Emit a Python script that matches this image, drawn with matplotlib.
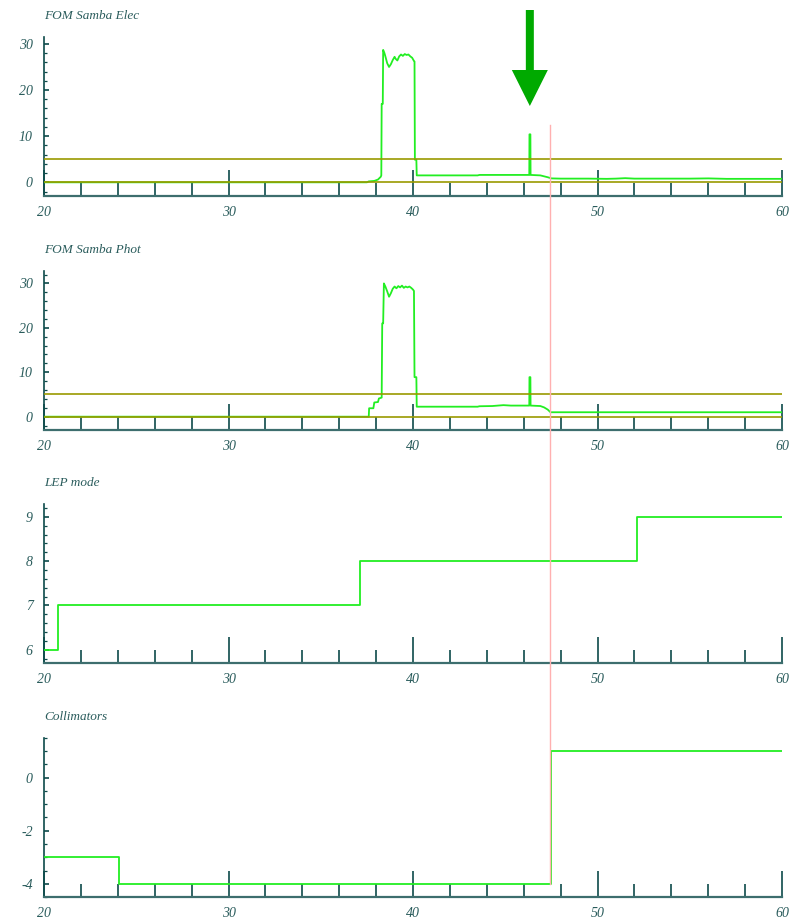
import matplotlib
matplotlib.use("Agg")
import matplotlib.pyplot as plt
import matplotlib.transforms as mtransforms
from matplotlib.lines import Line2D
from matplotlib.patches import FancyArrow
import numpy as np

# FOM traces, sampled points (linear between samples)
elec_t = [20.0, 37.5, 37.6, 37.9, 38.1, 38.25, 38.28, 38.3, 38.36, 38.38, 38.45, 38.5, 38.6,
          38.7, 38.8, 38.9, 39.0, 39.05, 39.15, 39.25, 39.35, 39.45, 39.55, 39.65, 39.75,
          39.85, 39.95, 40.05, 40.08, 40.1, 40.18, 40.2, 43.5, 43.6, 45.5, 46.3, 46.31,
          46.36, 46.37, 46.9, 47.1, 47.3, 47.5, 48.0, 49.5, 50.5, 51.0, 51.5, 52.0, 53.5,
          55.0, 56.0, 57.0, 60.0]
elec_v = [0.0, 0.0, 0.2, 0.3, 0.6, 1.2, 1.5, 17.0, 17.0, 28.7, 28.0, 27.3, 25.8,
          25.0, 25.6, 26.5, 27.2, 26.8, 26.4, 27.3, 27.7, 27.4, 27.8, 27.6, 27.7,
          27.3, 27.0, 26.3, 26.2, 4.9, 4.9, 1.5, 1.5, 1.6, 1.6, 1.6, 10.4,
          10.4, 1.6, 1.5, 1.3, 1.1, 0.85, 0.8, 0.8, 0.75, 0.8, 0.9, 0.8, 0.8,
          0.8, 0.85, 0.75, 0.75]

phot_t = [20.0, 37.6, 37.62, 37.85, 37.9, 38.1, 38.15, 38.3, 38.33, 38.38, 38.42, 38.5, 38.6,
          38.7, 38.8, 38.9, 39.0, 39.1, 39.2, 39.3, 39.4, 39.5, 39.6, 39.7, 39.8, 39.9,
          40.0, 40.05, 40.08, 40.18, 40.2, 43.5, 43.6, 44.3, 44.9, 45.3, 46.3, 46.31,
          46.36, 46.37, 46.9, 47.1, 47.3, 47.45, 60.0]
phot_v = [0.0, 0.0, 1.9, 1.9, 3.2, 3.3, 4.1, 4.3, 21.0, 21.0, 30.0, 29.3, 28.2,
          27.0, 27.8, 28.8, 29.3, 28.9, 29.4, 29.1, 29.5, 29.0, 29.3, 29.1, 29.3, 29.0,
          28.6, 28.3, 8.9, 8.9, 2.25, 2.25, 2.35, 2.4, 2.6, 2.5, 2.5, 8.9,
          8.9, 2.5, 2.4, 2.1, 1.6, 1.0, 1.0]

# mode settings, step-wise
lep_t = [20.0, 20.78, 37.13, 52.14, 60.0]
lep_v = [6, 7, 8, 9, 9]

coll_t = [20.0, 24.08, 47.48, 60.0]
coll_v = [-3, -4, 1, 1]

fom_limits = [0, 5]
marker_t = 47.45
spike_t = 46.33

TEXT = "#2a5c5c"
SPINE = "#0d4a4a"
GREEN = "#22ee22"
OLIVE = "#999900"

plt.rcParams["font.family"] = ["Liberation Serif", "DejaVu Serif"]
plt.rcParams["font.style"] = "italic"
plt.rcParams["axes.unicode_minus"] = False

fig = plt.figure(figsize=(7.89, 9.22), dpi=100)

left, width, height = 0.0558, 0.9354, 0.1725
bottoms = [0.7874, 0.5336, 0.2809, 0.0271]
titles = ["FOM Samba Elec", "FOM Samba Phot", "LEP mode", "Collimators"]
ylims = [(-2.97, 31.5), (-3.0, 32.8), (5.7, 9.29), (-4.5, 1.5)]
ymajor = [np.arange(0, 31, 10), np.arange(0, 31, 10), np.arange(6, 10, 1), np.arange(-4, 1, 2)]
yminor = [np.arange(-2, 32, 2), np.arange(-2, 33, 2), np.arange(5.8, 9.3, 0.2), np.arange(-4.5, 1.6, 0.5)]
series = [(elec_t, elec_v), (phot_t, phot_v), (lep_t, lep_v), (coll_t, coll_v)]
styles = ["default", "default", "steps-post", "steps-post"]

axes = []
for i in range(4):
    ax = fig.add_axes([left, bottoms[i], width, height])
    t, v = series[i]
    ax.plot(t, v, drawstyle=styles[i], color=GREEN, lw=1.3, zorder=3)
    if i < 2:
        for lim in fom_limits:
            ax.axhline(lim, color=OLIVE, lw=1.2, zorder=4)
    ax.set_xlim(20, 60)
    ax.set_ylim(*ylims[i])
    for s in ["top", "right"]:
        ax.spines[s].set_visible(False)
    ax.spines["left"].set_color(SPINE)
    ax.spines["left"].set_linewidth(1.2)
    ax.spines["bottom"].set_color("#3d6e6e")
    ax.spines["bottom"].set_linewidth(1.6)
    ax.set_xticks(np.arange(20, 61, 10))
    ax.set_xticks(np.arange(20, 61, 2), minor=True)
    ax.set_yticks(ymajor[i])
    ax.set_yticks(yminor[i], minor=True)
    ax.tick_params(axis="x", which="major", direction="in", length=19, width=1.2,
                   color=SPINE, pad=7.5, labelsize=10, labelcolor=TEXT)
    ax.tick_params(axis="x", which="minor", direction="in", length=9.5, width=1.2, color=SPINE)
    ax.tick_params(axis="y", which="major", direction="in", length=3.5, width=1.2,
                   color=SPINE, pad=8, labelsize=10, labelcolor=TEXT)
    ax.tick_params(axis="y", which="minor", direction="in", length=1.8, width=0.9, color=SPINE)
    ax.annotate(titles[i], xy=(0, 1), xycoords="axes fraction", xytext=(0, 13),
                textcoords="offset points", va="baseline", ha="left",
                fontsize=9.5, color=TEXT)
    axes.append(ax)

# cursor line through all panels
trans = mtransforms.blended_transform_factory(axes[0].transData, fig.transFigure)
fig.add_artist(Line2D([marker_t, marker_t], [0.8644, 0.041], transform=trans,
                      color="#ffb0b0", lw=1.0, zorder=1))

# arrow pointing at the spike
x_px = axes[0].transData.transform((spike_t, 0))[0] / fig.dpi
arrow = FancyArrow(x_px, 9.12, 0, -0.96, width=0.08, head_width=0.36, head_length=0.36,
                   length_includes_head=True, color="#00aa00", lw=0,
                   transform=fig.dpi_scale_trans)
fig.add_artist(arrow)

fig.savefig("out.png", dpi=100)
